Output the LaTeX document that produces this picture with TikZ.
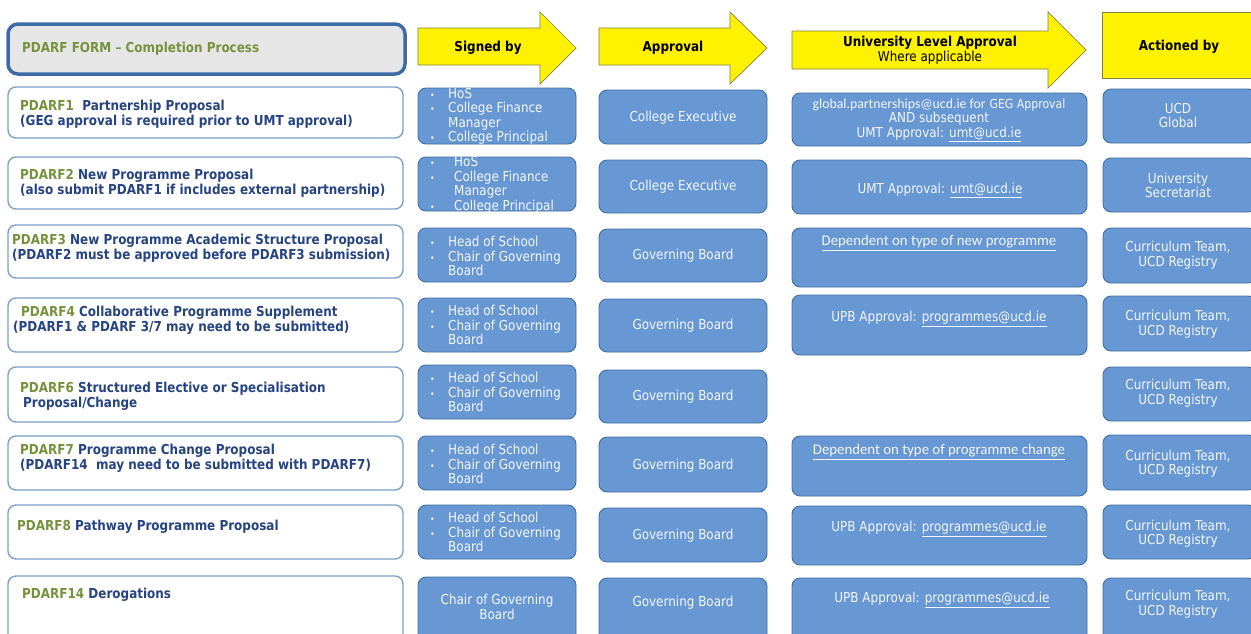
\documentclass[tikz,border=0pt]{standalone}
\usepackage{fontspec}
\setmainfont{DejaVu Sans}[FakeStretch=0.875]
\newfontfamily\calfont{Carlito}
\usetikzlibrary{fit}

\definecolor{boxblue}{RGB}{103,152,212}
\definecolor{boxedge}{RGB}{66,110,160}
\definecolor{boxtext}{RGB}{244,246,250}
\definecolor{formedge}{RGB}{125,160,205}
\definecolor{formgreen}{RGB}{118,146,60}
\definecolor{formblue}{RGB}{38,68,130}
\definecolor{titleedge}{RGB}{62,106,166}
\definecolor{titlefill}{RGB}{230,230,230}
\definecolor{hdredge}{RGB}{128,128,70}

\newcommand{\pd}[1]{\textcolor{formgreen}{#1}}
\newcommand{\itm}[1][19pt]{\makebox[#1][l]{\hspace{1pt}{\fontsize{9}{9}\selectfont\textbullet}}}
\newcommand{\mail}[1]{\underline{#1}}

\begin{document}
\begin{tikzpicture}[x=1pt,y=-1pt,
    formbox/.style={draw=formedge,line width=1.4pt,fill=white,rounded corners=8pt,inner sep=0pt},
    titlebox/.style={draw=titleedge,line width=3.5pt,fill=titlefill,rounded corners=10pt,inner sep=0pt},
    bluebox/.style={draw=boxedge,line width=0.9pt,fill=boxblue,rounded corners=8pt,inner sep=0pt},
    hdrshape/.style={draw=hdredge,line width=0.7pt,fill=yellow},
    formtext/.style={anchor=west,align=left,inner sep=0pt,text=formblue,
      font=\fontsize{13.7}{15}\selectfont\bfseries},
    bluetext/.style={align=center,inner sep=0pt,text=boxtext,font=\fontsize{13.7}{14.5}\selectfont},
    listtext/.style={bluetext,anchor=west,align=left},
    hdrtext/.style={align=center,inner sep=0pt,font=\fontsize{13.7}{15}\selectfont\bfseries}]
  \useasboundingbox (0,0) rectangle (1251,633);
  \clip (0,0) rectangle (1251,633);
  \fill[white] (0,0) rectangle (1251,633);

  % header row
  \node[titlebox,fit={(8,24) (405,74)}] (title) {};
  \node[formtext,text=formgreen] (titletext) at (22,49) {PDARF FORM -- Completion Process};
  \draw[hdrshape] (418,28) -- (540,28) -- (540,12) -- (576,48) -- (540,84) -- (540,65) -- (418,65) -- cycle;
  \draw[hdrshape] (599,28) -- (730,28) -- (730,12) -- (767,48) -- (730,84) -- (730,65) -- (599,65) -- cycle;
  \draw[hdrshape] (792,31) -- (1048,31) -- (1048,12) -- (1086,50) -- (1048,88) -- (1048,69) -- (792,69) -- cycle;
  \draw[hdrshape] (1102,12) rectangle (1260,78);
  \node[hdrtext] (signedhdr) at (488,48) {Signed by};
  \node[hdrtext] (approvalhdr) at (673,48) {Approval};
  \node[hdrtext] (univhdr) at (930,50.5) {University Level Approval\\{\mdseries Where applicable}};
  \node[hdrtext] (actionedhdr) at (1179,47) {Actioned by};

  % forms
  \foreach \r/\a/\b/\x/\y/\txt in {
      1/87/138/20/114.5/{\pd{PDARF1}\ \ Partnership Proposal\\(GEG approval is required prior to UMT approval)},
      2/157/209/20/183/{\pd{PDARF2} New Programme Proposal\\(also submit PDARF1 if includes external partnership)},
      3/225/278/12/248/{\pd{PDARF3} New Programme Academic Structure Proposal\\(PDARF2 must be approved before PDARF3 submission)},
      4/298/352/13/320/{\hspace*{8pt}\pd{PDARF4} Collaborative Programme Supplement\\(PDARF1 \& PDARF 3/7 may need to be submitted)},
      5/367/422/20/396/{\pd{PDARF6} Structured Elective or Specialisation\\\hspace*{3pt}Proposal/Change},
      6/436/490/20/458/{\pd{PDARF7} Programme Change Proposal\\(PDARF14\ \ may need to be submitted with PDARF7)},
      7/505/559/17/527/{\pd{PDARF8} Pathway Programme Proposal},
      8/576/645/22/595/{\pd{PDARF14} Derogations}} {
    \node[formbox,fit={(8,\a) (403,\b)}] (form\r) {};
    \node[formtext] (formtext\r) at (\x,\y) {\txt};
  }

  % signed by
  \foreach \r/\a/\b/\y/\txt in {
      1/88/144/116.5/{\itm HoS\\\itm College Finance\\\hspace*{19pt}Manager\\\itm College Principal},
      2/157/211/185/{\itm[25pt]HoS\\\itm[25pt]College Finance\\\hspace*{25pt}Manager\\\itm[25pt]College Principal},
      3/228/282/256/{\itm Head of School\\\itm Chair of Governing\\\hspace*{19pt}Board},
      4/298/352/325/{\itm Head of School\\\itm Chair of Governing\\\hspace*{19pt}Board},
      5/365/419/392/{\itm Head of School\\\itm Chair of Governing\\\hspace*{19pt}Board},
      6/436/490/464/{\itm Head of School\\\itm Chair of Governing\\\hspace*{19pt}Board},
      7/505/559/532/{\itm Head of School\\\itm Chair of Governing\\\hspace*{19pt}Board}} {
    \node[bluebox,fit={(418,\a) (576,\b)}] (signed\r) {};
    \node[listtext] (signedtext\r) at (429,\y) {\txt};
  }
  \node[bluebox,fit={(418,577) (576,645)}] (signed8) {};
  \node[bluetext] (signedtext8) at (497,607) {Chair of Governing\\Board};

  % approval
  \foreach \r/\a/\b/\y/\txt in {
      1/90/144/118/College Executive,
      2/160/213/187/College Executive,
      3/229/282/256/Governing Board,
      4/299/352/326/Governing Board,
      5/370/423/397/Governing Board,
      6/437/492/466/Governing Board,
      7/508/562/536/Governing Board,
      8/578/645/603/Governing Board} {
    \node[bluebox,fit={(599,\a) (767,\b)}] (appr\r) {};
    \node[bluetext] (apprtext\r) at (683,\y) {\txt};
  }

  % university level approval
  \foreach \r/\a/\b/\x/\y/\txt in {
      1/93/146/939/120/{{\calfont\fontsize{13.8}{14}\selectfont global.partnerships@ucd.ie for} {\fontsize{12.5}{14}\selectfont GEG Approval}\\AND subsequent\\UMT Approval: \mail{umt@ucd.ie}},
      2/160/214/940/190/{UMT Approval: \mail{umt@ucd.ie}},
      3/228/287/939/243/{\calfont\fontsize{14.8}{16}\selectfont\mail{Dependent on type of new programme}},
      4/295/355/939/319/{UPB Approval: \mail{programmes@ucd.ie}},
      6/436/496/939/452/{\calfont\fontsize{14.8}{16}\selectfont\mail{Dependent on type of programme change}},
      7/506/565/939/529/{UPB Approval: \mail{programmes@ucd.ie}},
      8/578/645/942/600/{UPB Approval: \mail{programmes@ucd.ie}}} {
    \node[bluebox,fit={(792,\a) (1087,\b)}] (univ\r) {};
    \node[bluetext] (univtext\r) at (\x,\y) {\txt};
  }

  % actioned by
  \foreach \r/\a/\b/\y/\txt in {
      1/89/143/115.5/{UCD\\Global},
      2/158/212/185.5/{University\\Secretariat},
      3/228/283/255/{Curriculum Team,\\UCD Registry},
      4/296/351/324/{Curriculum Team,\\UCD Registry},
      5/367/421/393/{Curriculum Team,\\UCD Registry},
      6/435/490/463.5/{Curriculum Team,\\UCD Registry},
      7/505/559/533.5/{Curriculum Team,\\UCD Registry},
      8/578/645/604/{Curriculum Team,\\UCD Registry}} {
    \node[bluebox,fit={(1103,\a) (1256,\b)}] (action\r) {};
    \node[bluetext] (actiontext\r) at (1178,\y) {\txt};
  }
\end{tikzpicture}
\end{document}
